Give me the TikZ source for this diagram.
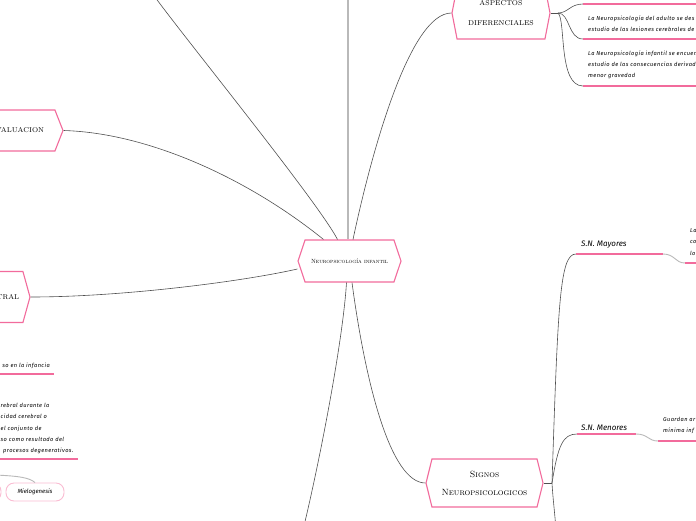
\documentclass[tikz,border=0pt]{standalone}
\usepackage{fontspec}
\newfontfamily\notefont{Fira Sans}[LetterSpace=7]
\newfontfamily\labelfont{Fira Sans}
\usepackage{tikz}
\usetikzlibrary{shapes.symbols, positioning, calc}
\definecolor{mindpink}{RGB}{242, 107, 156}
\definecolor{mindgray}{RGB}{80, 80, 80}
\definecolor{mindlight}{RGB}{185, 185, 185}

\begin{document}
\begin{tikzpicture}[x=1pt, y=-1pt,
    topic/.style={signal, signal to=east and west, draw=mindpink, fill=white, line width=1.1pt, inner sep=1pt, align=center, font=\fontsize{7}{8}\selectfont},
    branch/.style={draw=mindgray, line width=0.6pt},
    trunk/.style={draw=mindlight, line width=1.4pt},
    pinkline/.style={draw=mindpink, line width=1.3pt},
    joint/.style={draw=mindlight, line width=0.9pt},
    note/.style={inner sep=0pt, align=left, font=\notefont\itshape\fontsize{5.7}{11.3}\selectfont},
    subtopic/.style={inner sep=0pt, font=\labelfont\itshape\fontsize{8}{9}\selectfont},
    pill/.style={rectangle, rounded corners=8pt, draw=mindpink!45, line width=0.9pt, minimum width=58pt, minimum height=18pt, font=\labelfont\itshape\fontsize{6}{7}\selectfont}
  ]
  \useasboundingbox (0,0) rectangle (696,520);

  % main topics
  \node[topic, signal pointer angle=143, minimum width=103pt, minimum height=42pt, font=\scshape\fontsize{6}{7}\selectfont] (root) at (349.5,261) {Neuropsicología infantil};
  \node[topic, signal pointer angle=158, minimum width=98pt, minimum height=52pt, font=\fontsize{7}{20}\selectfont] (aspectos) at (501,13) {ASPECTOS\\DIFERENCIALES};
  \node[topic, signal pointer angle=152, minimum width=117pt, minimum height=48pt, font=\scshape\fontsize{9}{18}\selectfont] (signos) at (484.5,483) {Signos\\Neuropsicologicos};
  \node[topic, signal pointer angle=137, minimum width=86pt, minimum height=41pt] (evaluacion) at (20,130.5) {VALUACION};
  \node[topic, signal pointer angle=149, minimum width=44pt, minimum height=51pt] (tral) at (8,297) {TRAL};

  % free ends
  \coordinate (offTL) at (150,-10);
  \coordinate (offTop) at (348,-10);
  \coordinate (offBot) at (303,530);
  \coordinate (sigDown) at (556,530);
  \coordinate (offML) at (-5,475);

  % branches of the root
  \draw[branch] ([xshift=-12pt]root.north) .. controls (317,200) and (170,20) .. (offTL);
  \draw[branch] ([xshift=-26pt]root.north) .. controls (250,180) and (150,133) .. (evaluacion.east);
  \draw[trunk] ([xshift=-1.5pt]root.north) -- (offTop);
  \draw[branch] ([xshift=3.5pt]root.north) .. controls (372,150) and (410,13) .. (aspectos.west);
  \draw[branch] ([yshift=-8pt]root.west) .. controls (240,282) and (120,297) .. (tral.east);
  \draw[branch] ([xshift=-3pt]root.south) .. controls (343,340) and (320,460) .. (offBot);
  \draw[branch] ([xshift=2.5pt]root.south) .. controls (365,380) and (390,483) .. (signos.west);

  % aspectos diferenciales
  \coordinate (aspJ) at (558,13);
  \coordinate (topA) at (583,4);
  \coordinate (midA) at (583,39);
  \coordinate (lowA) at (583,86);
  \draw[branch] (aspectos.east) -- (aspJ);
  \draw[branch] (aspJ) .. controls (568,13) and (570,4) .. (topA);
  \draw[branch] (aspJ) .. controls (570,13) and (568,39) .. (midA);
  \draw[branch] (aspJ) .. controls (566,20) and (558,86) .. (lowA);
  \draw[pinkline] (topA) -- ++(120,0);
  \draw[pinkline] (midA) -- ++(120,0);
  \draw[pinkline] (lowA) -- ++(120,0);
  \node[note, anchor=north west] (adultnote) at (588,15.5) {La Neuropsicología del adulto se des\\estudio de las lesiones cerebrales de};
  \node[note, anchor=north west] (infantnote) at (588,50.5) {La Neuropsicología infantil se encuen\\estudio de las consecuencias derivad\\menor gravedad};

  % signos neuropsicologicos
  \coordinate (sigJ) at (552,483);
  \coordinate (mayA) at (576,254);
  \coordinate (mayB) at (663,254);
  \coordinate (mayC) at (685,263);
  \coordinate (menA) at (577,434);
  \coordinate (menB) at (636,434);
  \coordinate (menC) at (658,441);
  \draw[branch] (signos.east) -- (sigJ);
  \draw[branch] (sigJ) .. controls (558,300) and (560,254) .. (mayA);
  \draw[branch] (sigJ) .. controls (558,445) and (563,434) .. (menA);
  \draw[branch] (sigJ) .. controls (553,500) and (555,515) .. (sigDown);
  \node[subtopic, anchor=base west] (mayores) at (581,246) {S.N. Mayores};
  \node[subtopic, anchor=base west] (menores) at (581,430) {S.N. Menores};
  \draw[pinkline] (mayA) -- (mayB);
  \draw[joint] (mayB) .. controls +(12,0) and +(-10,0) .. (mayC);
  \draw[pinkline] (mayC) -- ++(20,0);
  \draw[pinkline] (menA) -- (menB);
  \draw[joint] (menB) .. controls +(12,0) and +(-10,0) .. (menC);
  \draw[pinkline] (menC) -- ++(50,0);
  \node[note, anchor=north west] (majnote) at (690,228.5) {La\\co\\lo};
  \node[note, anchor=north west] (minnote) at (663,417) {Guardan ar\\mínima inf};

  % left side notes
  \node[note, anchor=base east] (infancia) at (50,367) {so en la infancia};
  \draw[pinkline] (-10,374) -- (54,374);
  \node[note, anchor=north west] (cerebral) at (0.5,403) {rebral durante la\\cidad cerebral o\\el conjunto de\\so como resultado del\\\hspace*{2.5pt}procesos degenerativos.};
  \draw[pinkline] (-10,459) -- (78,459);
  \node[pill] (mielo) at (35,492) {Mielogenesis};
  \node[pill, minimum width=40pt] (prevpill) at (-19,492) {};
  \draw[joint] (offML) .. controls (20,476) and (30,478) .. (mielo.north);
\end{tikzpicture}
\end{document}
